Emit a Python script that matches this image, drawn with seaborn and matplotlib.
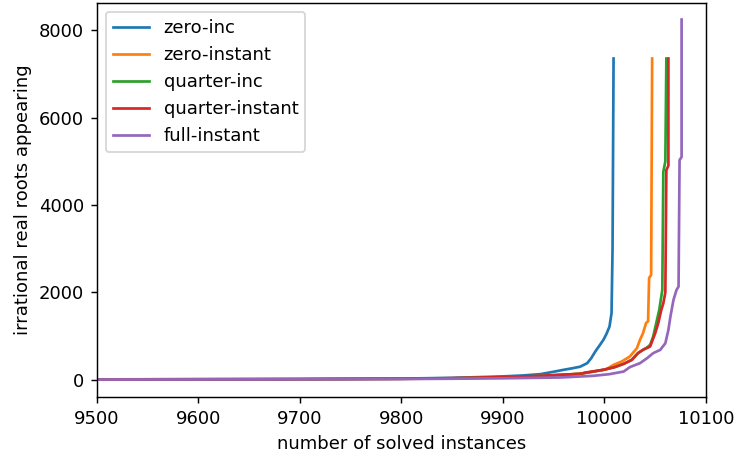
import pandas as pd
import seaborn as sns
import matplotlib.pyplot as plt

# Series (number of solved instances, roots appearing)
zero_inc_x = [9400, 9500, 9700, 9800, 9850, 9897, 9920, 9937, 9950, 9960, 9969, 9976,
              9983, 9987, 9991, 9995, 9999, 10002, 10005, 10007, 10008, 10009]
zero_inc_y = [5, 10, 18, 28, 45, 75, 100, 130, 185, 230, 267, 300,
              380, 495, 648, 780, 914, 1050, 1219, 1524, 3000, 7353]

zero_instant_x = [9400, 9500, 9700, 9800, 9850, 9897, 9937, 9956, 9976, 9990, 10002, 10009,
                  10017, 10025, 10032, 10035, 10038, 10041, 10043, 10044, 10046, 10047]
zero_instant_y = [5, 8, 14, 22, 32, 55, 85, 110, 140, 190, 244, 343,
                  419, 533, 724, 914, 1067, 1300, 1340, 2331, 2400, 7353]

quarter_inc_x = [9400, 9500, 9700, 9800, 9850, 9897, 9937, 9956, 9976, 9999, 10010, 10019,
                 10027, 10033, 10038, 10042, 10045, 10048, 10051, 10054, 10057, 10058,
                 10060, 10061]
quarter_inc_y = [5, 9, 15, 24, 35, 60, 90, 112, 137, 229, 290, 366,
                 457, 610, 686, 740, 800, 990, 1295, 1600, 2057, 4760,
                 5000, 7353]

quarter_instant_x = [9400, 9500, 9700, 9800, 9850, 9897, 9937, 9956, 9976, 9982, 9999, 10010,
                     10019, 10027, 10033, 10038, 10045, 10050, 10053, 10056, 10058, 10060,
                     10061, 10063, 10063]
quarter_instant_y = [5, 10, 16, 25, 38, 61, 91, 114, 137, 168, 229, 290,
                     366, 457, 610, 686, 762, 1067, 1295, 1600, 1752, 2000,
                     4800, 4900, 7353]

full_instant_x = [9400, 9500, 9700, 9800, 9850, 9900, 9956, 9989, 10005, 10019, 10025, 10035,
                  10042, 10048, 10055, 10060, 10063, 10065, 10068, 10071, 10073, 10074,
                  10076, 10076]
full_instant_y = [4, 7, 12, 18, 25, 35, 53, 91, 130, 190, 290, 381,
                  495, 610, 686, 838, 1143, 1448, 1829, 2057, 2133, 5029,
                  5100, 8245]

labels = ['zero-inc', 'zero-instant', 'quarter-inc', 'quarter-instant', 'full-instant']
xs = [zero_inc_x, zero_instant_x, quarter_inc_x, quarter_instant_x, full_instant_x]
ys = [zero_inc_y, zero_instant_y, quarter_inc_y, quarter_instant_y, full_instant_y]

colors = sns.color_palette('tab10', 5)

fig, ax = plt.subplots(figsize=(736 / 130, 460 / 130), dpi=130)
fig.subplots_adjust(left=0.1314, right=0.9592, bottom=0.1363, top=0.9941)

for lab, x, y, c in zip(labels, xs, ys, colors):
    df = pd.DataFrame({'x': x, 'y': y})
    sns.lineplot(data=df, x='x', y='y', estimator=None, color=c, label=lab,
                 linewidth=1.5, ax=ax)

ax.set_xlim(9500, 10100)
ax.set_ylim(-400, 8630)
ax.set_xlabel('number of solved instances')
ax.set_ylabel('irrational real roots appearing')
ax.legend(loc='upper left')

fig.savefig('out.png', dpi=130)
